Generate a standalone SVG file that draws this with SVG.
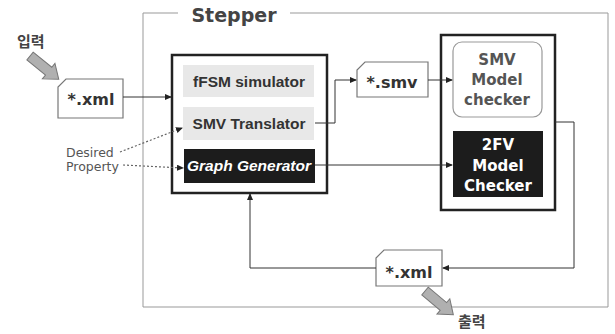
<svg xmlns="http://www.w3.org/2000/svg" width="615" height="334" viewBox="0 0 615 334">
<style>
.frame{fill:none;stroke:#999;stroke-width:1}
.blk{fill:#fff;stroke:#222;stroke-width:2.5}
.doc{fill:#fff;stroke:#777;stroke-width:1.2}
.lite{fill:#e8e8e8}
.dark{fill:#1c1c1c}
.con{fill:none;stroke:#333;stroke-width:1}
.dash{fill:none;stroke:#666;stroke-width:1.2;stroke-dasharray:2 2}
.big{fill:#b0b0b0;stroke:#777;stroke-width:1}
.t{font-family:"DejaVu Sans",Verdana,sans-serif;font-weight:bold;text-anchor:middle}
.c{font-family:"Comic Sans MS","Liberation Sans",sans-serif;font-weight:bold;font-size:15.5px;text-anchor:middle}
.k{font-family:"Noto Sans CJK KR",sans-serif;font-weight:bold;font-size:15px;fill:#444}
</style>
<defs>
<marker id="ah" markerWidth="7" markerHeight="6" refX="6" refY="3" orient="auto" markerUnits="userSpaceOnUse">
<path d="M0,0 L7,3 L0,6 Z" fill="#222"/>
</marker>
</defs>

<g id="stepper">
<path class="frame" d="M178,13 H143 V307 H608 V13 H290"/>
<text class="t" x="234" y="22" font-size="19" fill="#444">Stepper</text>
</g>

<g id="input-label">
<polygon class="big" points="0,-5 24,-5 24,-10 37,0 24,10 24,5 0,5" transform="translate(30,56) rotate(39)"/>
<text class="k" x="17" y="47">입력</text>
</g>

<g id="xml-in">
<path class="doc" d="M66,79 H123 V118 H58 V87 Z"/>
<text class="t" x="91" y="105" font-size="16" fill="#333">*.xml</text>
</g>

<g id="main-block">
<rect class="blk" x="172" y="55" width="155" height="138"/>
</g>
<g id="ffsm">
<rect class="lite" x="183" y="65" width="131" height="32"/>
<text class="c" x="249" y="87" fill="#333">fFSM simulator</text>
</g>
<g id="smv-translator">
<rect class="lite" x="183" y="107" width="131" height="33"/>
<text class="c" x="249" y="129" fill="#333">SMV Translator</text>
</g>
<g id="graph-generator">
<rect class="dark" x="184" y="149" width="131" height="34"/>
<text class="c" x="249" y="171" fill="#fff" font-style="italic">Graph Generator</text>
</g>

<g id="smv-file">
<path class="doc" d="M365,62 H428 V97 H357 V70 Z"/>
<text class="t" x="392" y="88" font-size="16" fill="#333">*.smv</text>
</g>

<g id="checker-block">
<rect class="blk" x="441" y="35" width="114" height="175"/>
</g>
<g id="smv-checker">
<rect x="453" y="42" width="89" height="75" rx="9" fill="#fff" stroke="#999" stroke-width="1.2"/>
<text class="t" font-size="15" fill="#555"><tspan x="497" y="65">SMV</tspan><tspan x="497" y="85">Model</tspan><tspan x="497" y="105">checker</tspan></text>
</g>
<g id="fv-checker">
<rect class="dark" x="453" y="131" width="90" height="66"/>
<text class="t" font-size="15" fill="#fff"><tspan x="498" y="150">2FV</tspan><tspan x="498" y="171">Model</tspan><tspan x="498" y="191">Checker</tspan></text>
</g>

<g id="xml-out">
<path class="doc" d="M384,250 H442 V286 H376 V258 Z"/>
<text class="t" x="409" y="278" font-size="16" fill="#333">*.xml</text>
</g>

<g id="output-label">
<polygon class="big" points="0,-5 24,-5 24,-10 37,0 24,10 24,5 0,5" transform="translate(425,291) rotate(40)"/>
<text class="k" x="458" y="327">출력</text>
</g>

<g id="desired-property">
<text font-family="DejaVu Sans,sans-serif" font-size="12.5" fill="#555"><tspan x="66" y="157">Desired</tspan><tspan x="66" y="171">Property</tspan></text>
</g>

<g id="connectors">
<path class="con" d="M123,97 H171" marker-end="url(#ah)"/>
<path class="con" d="M315,123 H335 V80 H356" marker-end="url(#ah)"/>
<path class="con" d="M428,80 H452" marker-end="url(#ah)"/>
<path class="con" d="M315,165 H452" marker-end="url(#ah)"/>
<path class="con" d="M555,122 H574 V268 H443" marker-end="url(#ah)"/>
<path class="con" d="M376,268 H250 V194" marker-end="url(#ah)"/>
<path class="dash" d="M120,152 L182,128" marker-end="url(#ah)"/>
<path class="dash" d="M123,165 L183,168" marker-end="url(#ah)"/>
</g>
</svg>
